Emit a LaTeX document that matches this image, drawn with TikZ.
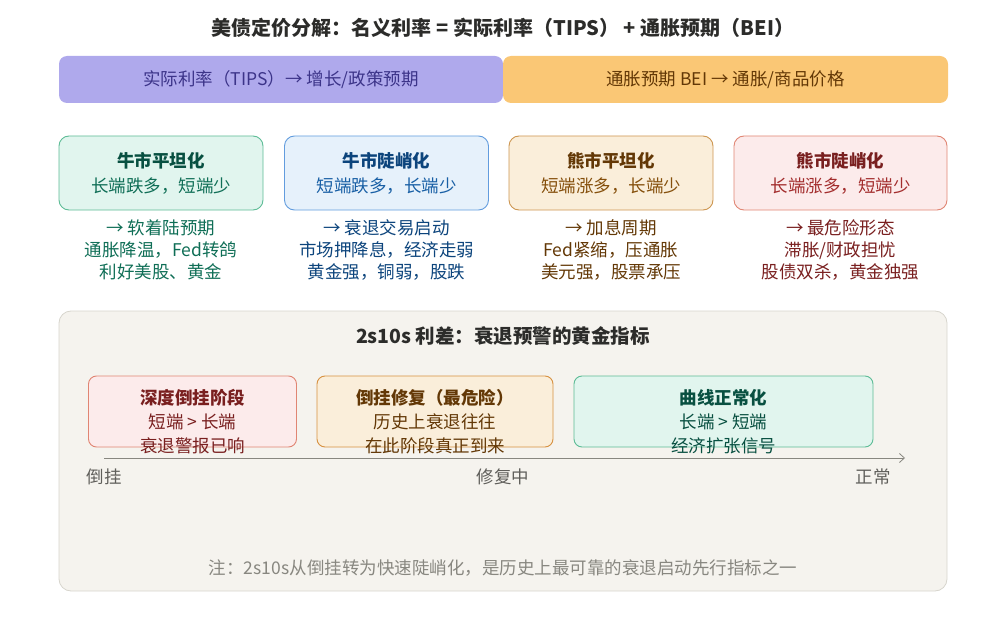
\documentclass[tikz,border=0pt]{standalone}
\usepackage{fontspec}
\setmainfont{Noto Sans CJK SC}
\usepackage{tikz}
\usetikzlibrary{arrows.meta,positioning}
\usepackage{xcolor}
\definecolor{inkdark}   {RGB}{ 44,  44,  42}
\definecolor{inkgray}   {RGB}{ 95,  94,  90}
\definecolor{axisgray}  {RGB}{136, 135, 128}
\definecolor{bandpurple}{RGB}{175, 169, 236}
\definecolor{textpurple}{RGB}{ 60,  52, 137}
\definecolor{bandorange}{RGB}{250, 199, 117}
\definecolor{greenfill} {RGB}{225, 245, 238}
\definecolor{greenline} {RGB}{ 93, 188, 150}
\definecolor{greendark} {RGB}{  8,  80,  65}
\definecolor{greenmid}  {RGB}{ 15, 110,  86}
\definecolor{bluefill}  {RGB}{230, 241, 251}
\definecolor{blueline}  {RGB}{ 98, 156, 222}
\definecolor{bluedark}  {RGB}{ 12,  68, 124}
\definecolor{bluemid}   {RGB}{ 24,  95, 165}
\definecolor{amberfill} {RGB}{250, 238, 218}
\definecolor{amberline} {RGB}{205, 150,  80}
\definecolor{amberdark} {RGB}{ 99,  56,   6}
\definecolor{ambermid}  {RGB}{133,  79,  11}
\definecolor{redfill}   {RGB}{252, 235, 235}
\definecolor{redline}   {RGB}{224, 133, 115}
\definecolor{reddark}   {RGB}{121,  31,  31}
\definecolor{redmid}    {RGB}{163,  45,  45}
\definecolor{panelfill} {RGB}{245, 243, 238}
\definecolor{panelline} {RGB}{215, 213, 205}

\begin{document}
\begin{tikzpicture}[x=1pt,y=-1pt,
  every node/.style={font=\fontsize{17.5}{22}\selectfont},
  band/.style={rounded corners=8pt,minimum height=47pt,inner sep=0pt},
  card/.style={draw,line width=0.9pt,rounded corners=10pt,
               minimum width=204pt,minimum height=74pt,inner sep=0pt},
  cardtxt/.style={align=center,font=\fontsize{17.5}{25}\selectfont},
  effect/.style={align=center,font=\fontsize{17.5}{22}\selectfont},
  stage/.style={draw,line width=0.9pt,rounded corners=8pt,
                minimum height=71pt,inner sep=0pt},
  stagetxt/.style={align=center,font=\fontsize{17.5}{24}\selectfont},
  axis/.style={axisgray,line width=0.8pt,-{Straight Barb[length=5pt,width=9pt]}},
  lbl/.style={text=inkgray},
]
\useasboundingbox (0,0) rectangle (1007,623);

%% Title
\node[text=inkdark,font=\fontsize{20}{22}\selectfont\bfseries] (title) at (503,28)
  {美债定价分解：名义利率 = 实际利率（TIPS） + 通胀预期（BEI）};

%% Two components
\node[band,fill=bandpurple,text=textpurple,minimum width=444pt] (tips) at (281,79.5)
  {实际利率（TIPS）→ 增长/政策预期};
\node[band,fill=bandorange,text=amberdark,minimum width=445pt] (bei) at (725.5,79.5)
  {通胀预期 BEI → 通胀/商品价格};

%% Four curve shapes
\node[card,fill=greenfill,draw=greenline] (bullflat) at (161,173) {};
\node[card,fill=bluefill,draw=blueline] (bullsteep) at (386.5,173) {};
\node[card,fill=amberfill,draw=amberline] (bearflat) at (611,173) {};
\node[card,fill=redfill,draw=redline,minimum width=213pt] (bearsteep) at (840.5,173) {};

\node[cardtxt] (bullflatT) at (bullflat)
  {\textcolor{greendark}{\bfseries 牛市平坦化}\\\textcolor{greenmid}{长端跌多，短端少}};
\node[cardtxt] (bullsteepT) at (bullsteep)
  {\textcolor{bluedark}{\bfseries 牛市陡峭化}\\\textcolor{bluemid}{短端跌多，长端少}};
\node[cardtxt] (bearflatT) at (bearflat)
  {\textcolor{amberdark}{\bfseries 熊市平坦化}\\\textcolor{ambermid}{短端涨多，长端少}};
\node[cardtxt] (bearsteepT) at (bearsteep)
  {\textcolor{reddark}{\bfseries 熊市陡峭化}\\\textcolor{redmid}{长端涨多，短端少}};

%% Market effects under each card
\node[effect,text=greenmid] (bullflatE) at (161,250)
  {→ 软着陆预期\\通胀降温，Fed转鸽\\利好美股、黄金};
\node[effect,text=bluedark] (bullsteepE) at (386.5,250)
  {→ 衰退交易启动\\市场押降息，经济走弱\\黄金强，铜弱，股跌};
\node[effect,text=amberdark] (bearflatE) at (611,250)
  {→ 加息周期\\Fed紧缩，压通胀\\美元强，股票承压};
\node[effect,text=reddark] (bearsteepE) at (840.5,250)
  {→ 最危险形态\\滞胀/财政担忧\\股债双杀，黄金独强};

%% 2s10s panel
\node[draw=panelline,fill=panelfill,line width=0.8pt,rounded corners=12pt,
      minimum width=888pt,minimum height=280pt,inner sep=0pt] (panel) at (503,451) {};
\node[text=inkdark,font=\fontsize{19.5}{22}\selectfont\bfseries] (paneltitle) at (503,336)
  {2s10s 利差：衰退预警的黄金指标};

\node[stage,fill=redfill,draw=redline,minimum width=208pt] (deep) at (192.5,411.5) {};
\node[stage,fill=amberfill,draw=amberline!80!orange,minimum width=236pt] (repair) at (435,411.5) {};
\node[stage,fill=greenfill,draw=greenline,minimum width=299pt] (normal) at (723.5,411.5) {};

\node[stagetxt,text=reddark] (deepT) at ([yshift=-10pt]deep.center)
  {{\bfseries 深度倒挂阶段}\\短端 > 长端\\衰退警报已响};
\node[stagetxt,text=amberdark] (repairT) at ([yshift=-10pt]repair.center)
  {{\bfseries 倒挂修复（最危险）}\\历史上衰退往往\\在此阶段真正到来};
\node[stagetxt,text=greendark] (normalT) at ([yshift=-10pt]normal.center)
  {{\bfseries 曲线正常化}\\长端 > 短端\\经济扩张信号};

%% Axis
\coordinate (ax0) at (104,458);
\coordinate (ax1) at (905,458);
\draw[axis] (ax0) -- (ax1);
\node[lbl] (inv) at (104,477) {倒挂};
\node[lbl] (mid) at (503,477) {修复中};
\node[lbl] (norm) at (873,477) {正常};

%% Note
\node[text=axisgray,font=\fontsize{17.5}{20}\selectfont] (note) at (503,568)
  {注：2s10s从倒挂转为快速陡峭化，是历史上最可靠的衰退启动先行指标之一};

\end{tikzpicture}
\end{document}
